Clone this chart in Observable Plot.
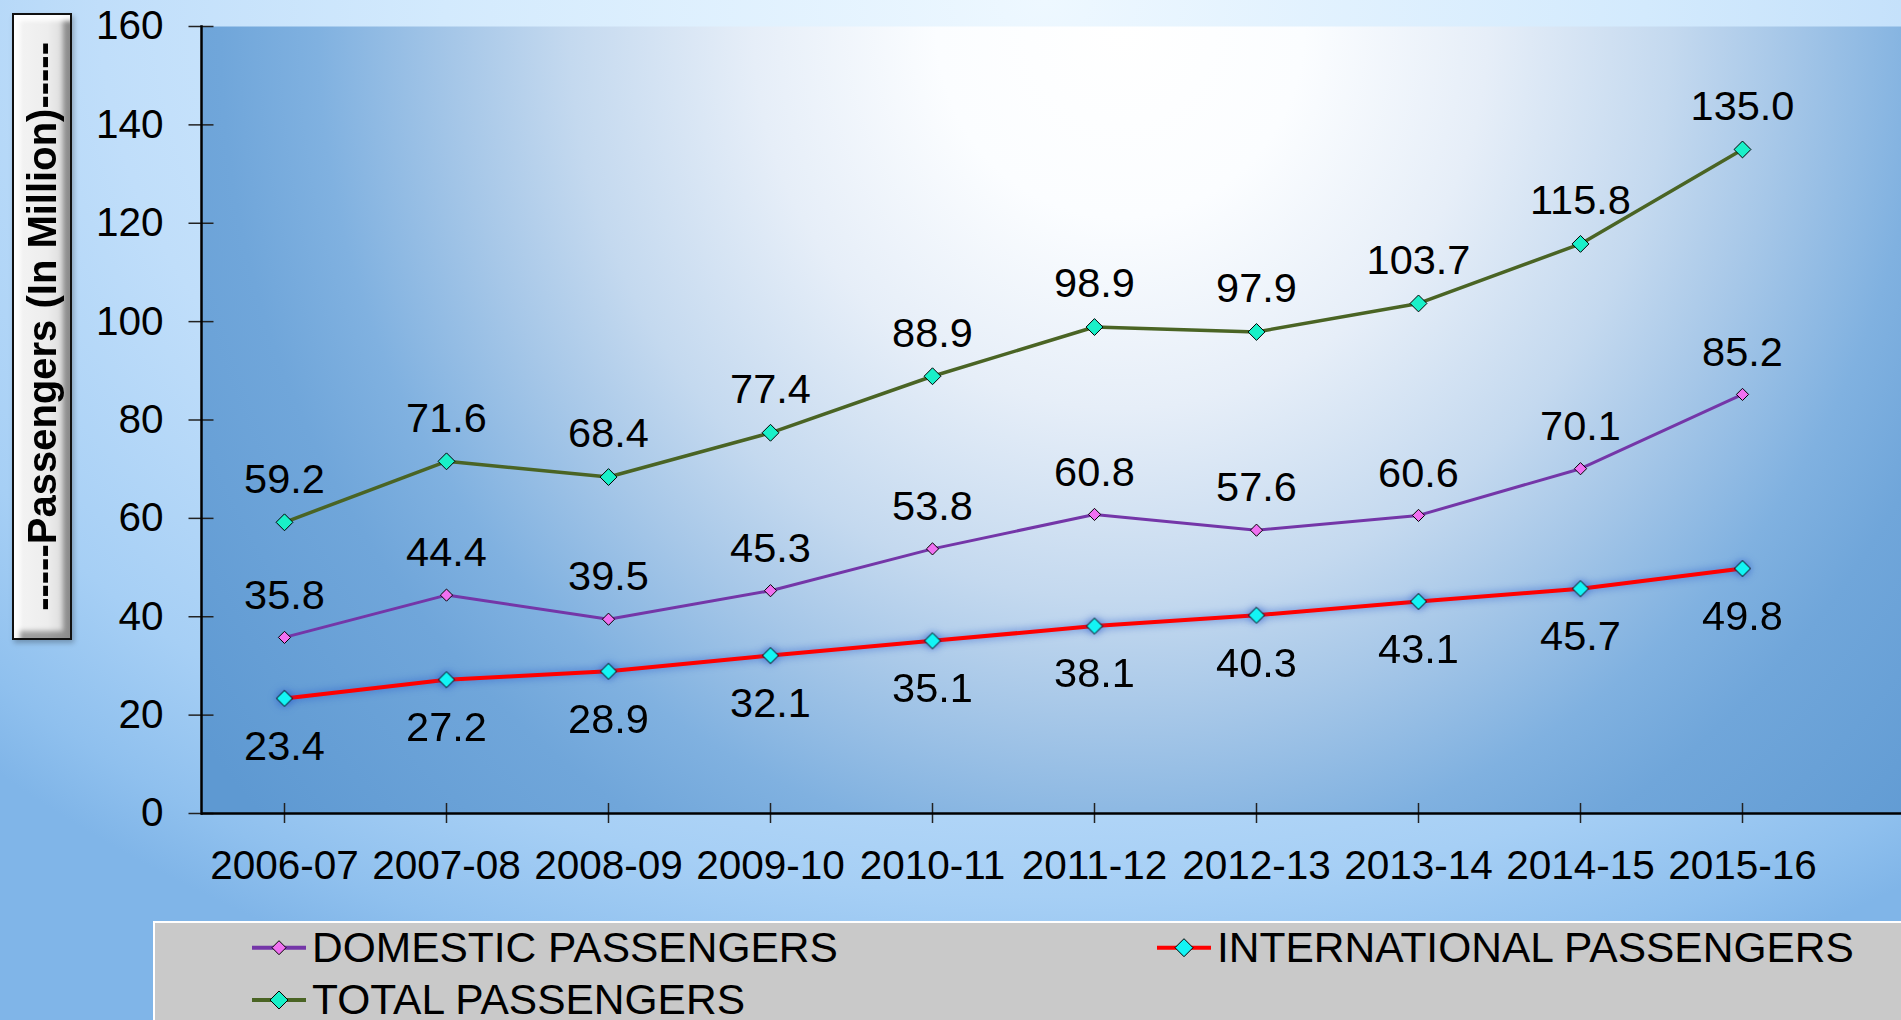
<!DOCTYPE html>
<html>
<head>
<meta charset="utf-8">
<script src="https://cdn.jsdelivr.net/npm/d3@7"></script>
<script src="https://cdn.jsdelivr.net/npm/@observablehq/plot@0.6"></script>
<style>
html, body { margin: 0; padding: 0; }
body {
  width: 1901px; height: 1020px; overflow: hidden; position: relative;
  font-family: "Liberation Sans", Arial, sans-serif;
  background: radial-gradient(ellipse 1500px 1080px at 1045px 0px, #eef8ff 0%, #d3eafd 40%, #c0defa 63%, #a6cff5 83%, #8fc0ee 94%, #80b5e8 100%);
}
#chart { position: absolute; left: 0; top: 0; }
#ylabel {
  position: absolute; left: 12px; top: 13px; width: 60px; height: 627px;
  box-sizing: border-box; border: 2px solid #111;
  background: linear-gradient(to right, #f4f4f4 0%, #ededed 60%, #d6d6d6 100%);
  box-shadow: inset 6px 6px 4px rgba(255,255,255,0.95), inset -7px -7px 5px rgba(0,0,0,0.35), 2px 3px 5px rgba(0,0,0,0.25);
  display: flex; align-items: center; justify-content: center;
}
#ylabel span {
  writing-mode: vertical-rl; transform: rotate(180deg);
  font-weight: bold; font-size: 40px; color: #000; white-space: nowrap;
  font-family: "Liberation Sans", Arial, sans-serif;
}
#legend { position: absolute; left: 0; top: 921px; }
</style>
</head>
<body>
<div id="chart"></div>
<div id="ylabel"><span>-----Passengers (In Million)-----</span></div>
<svg id="legend" width="1901" height="99"></svg>
<script>
// ---- data ----
const years = ["2006-07", "2007-08", "2008-09", "2009-10", "2010-11", "2011-12", "2012-13", "2013-14", "2014-15", "2015-16"];
const domestic = [35.8, 44.4, 39.5, 45.3, 53.8, 60.8, 57.6, 60.6, 70.1, 85.2];
const international = [23.4, 27.2, 28.9, 32.1, 35.1, 38.1, 40.3, 43.1, 45.7, 49.8];
const total = [59.2, 71.6, 68.4, 77.4, 88.9, 98.9, 97.9, 103.7, 115.8, 135.0];
const yTicks = [0, 20, 40, 60, 80, 100, 120, 140, 160];
const seriesNames = ["DOMESTIC PASSENGERS", "INTERNATIONAL PASSENGERS", "TOTAL PASSENGERS"];

// ---- styles ----
const FONT = "Liberation Sans, Arial, sans-serif";
const FS = 40.5;
const LABEL_FS = 41.5;
const lineColors = ["#7436a8", "#ff0000", "#4a6424"];
const dotColors = ["#f070f0", "#13f5f5", "#19f0c8"];
const lineWidths = [3, 4, 3.5];
const dotR = [5.5, 7.2, 7.6];
const labelDy = [-42, 48, -43];

const rows = (vals) => years.map((year, i) => ({year, value: vals[i]}));
const series = [rows(domestic), rows(international), rows(total)];

const marks = [
  Plot.frame({fill: "url(#plotBg)"}),
  Plot.axisX({tickSize: 20, dy: -10, tickPadding: 26.5, label: null, fontSize: FS, stroke: "#222", strokeWidth: 1.5}),
  Plot.axisY({ticks: yTicks, tickSize: 25, dx: 12.5, tickPadding: 25.5, label: null, fontSize: FS, stroke: "#222", strokeWidth: 1.5}),
  Plot.frame({anchor: "left", stroke: "black", strokeWidth: 2.5}),
  Plot.ruleY([0], {stroke: "black", strokeWidth: 2.5})
];
series.forEach((data, k) => {
  marks.push(Plot.line(data, {x: "year", y: "value", stroke: lineColors[k], strokeWidth: lineWidths[k]}));
});
series.forEach((data, k) => {
  marks.push(Plot.dot(data, {x: "year", y: "value", symbol: "diamond2", r: dotR[k], fill: dotColors[k], stroke: "black", strokeWidth: 1}));
});
series.forEach((data, k) => {
  marks.push(Plot.text(data, {x: "year", y: "value", text: d => d.value.toFixed(1), dy: labelDy[k], fontSize: LABEL_FS, fill: "black"}));
});

const chart = Plot.plot({
  width: 1901, height: 921,
  marginLeft: 201, marginRight: 0, marginTop: 26, marginBottom: 108,
  style: {background: "transparent", fontFamily: FONT, fontSize: FS + "px", color: "black", overflow: "visible"},
  x: {type: "point", domain: years, range: [283, 1742], padding: 0},
  y: {domain: [0, 160]},
  marks
});
document.getElementById("chart").appendChild(chart);

// gradient for plot area
const svg = d3.select(chart);
const defs = svg.insert("defs", ":first-child");
const grad = defs.append("radialGradient").attr("id", "plotBg")
  .attr("gradientUnits", "userSpaceOnUse")
  .attr("cx", 1120).attr("cy", 26).attr("r", 1147)
  .attr("gradientTransform", "translate(1120,26) scale(1,1.04) translate(-1120,-26)");
[[0, "#ffffff"], [0.16, "#fbfdff"], [0.32, "#e6eef8"], [0.48, "#c4d9ef"], [0.58, "#a6c7e8"],
 [0.70, "#80b1e0"], [0.785, "#70a6da"], [1, "#5e99d2"]].forEach(([o, c]) =>
  grad.append("stop").attr("offset", o).attr("stop-color", c));

// glow on international series
const lineGroups = svg.selectAll('g[aria-label="line"]').nodes();
const dotGroups = svg.selectAll('g[aria-label="dot"]').nodes();
[lineGroups[1], dotGroups[1]].forEach(n => { if (n) n.style.filter = "drop-shadow(0px 0px 4px rgba(30,80,200,0.75))"; });

// legend
const leg = d3.select("#legend");
leg.append("rect").attr("x", 153).attr("y", 0).attr("width", 1748).attr("height", 99).attr("fill", "#c9c9c9");
leg.append("line").attr("x1", 153).attr("x2", 1901).attr("y1", 1).attr("y2", 1).attr("stroke", "#ffffff").attr("stroke-width", 2);
leg.append("line").attr("x1", 154).attr("x2", 154).attr("y1", 0).attr("y2", 99).attr("stroke", "#ffffff").attr("stroke-width", 2);
const legPos = [[252, 26.7], [1157, 26.7], [252, 79]];
const legR = [7, 9, 9];
seriesNames.forEach((name, k) => {
  const [x0, yc] = legPos[k];
  const g = leg.append("g");
  g.append("line").attr("x1", x0).attr("x2", x0 + 54).attr("y1", yc).attr("y2", yc)
    .attr("stroke", lineColors[k]).attr("stroke-width", 4);
  const r = legR[k];
  g.append("path").attr("d", `M${x0 + 27},${yc - r}L${x0 + 27 + r},${yc}L${x0 + 27},${yc + r}L${x0 + 27 - r},${yc}Z`)
    .attr("fill", dotColors[k]).attr("stroke", "black").attr("stroke-width", 1);
  g.append("text").attr("x", x0 + 60).attr("y", yc + 14)
    .attr("font-family", FONT).attr("font-size", 42.5).attr("fill", "black").text(name);
});
</script>
</body>
</html>
